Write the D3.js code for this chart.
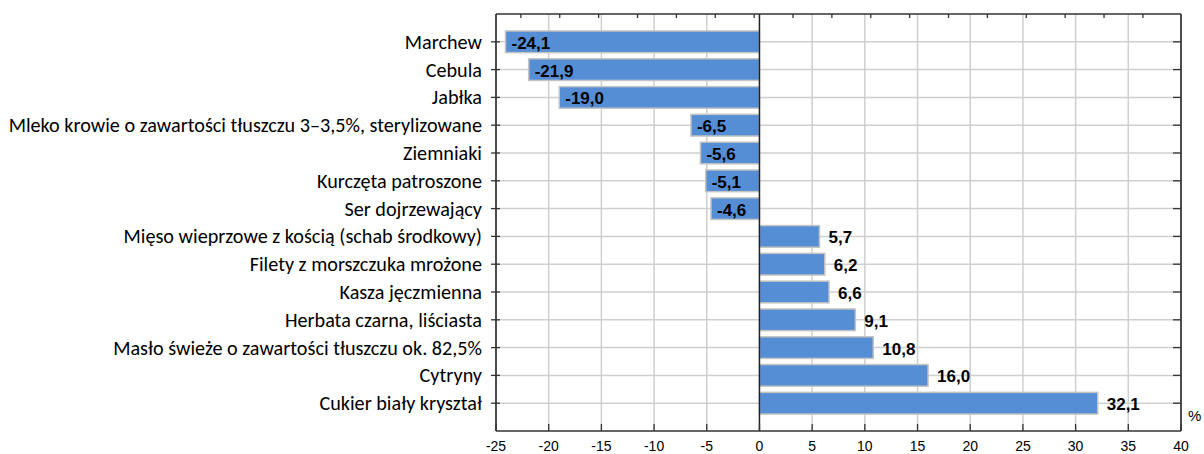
<!DOCTYPE html>
<html>
<head>
<meta charset="utf-8">
<script src="https://cdn.jsdelivr.net/npm/d3@7"></script>
<style>
  body { margin: 0; background: #fff; }
  svg { display: block; }
</style>
</head>
<body>
<svg id="chart" width="1204" height="454"></svg>
<script>
// dane
const categories = [
    "Marchew",
    "Cebula",
    "Jabłka",
    "Mleko krowie o zawartości tłuszczu 3–3,5%, sterylizowane",
    "Ziemniaki",
    "Kurczęta patroszone",
    "Ser dojrzewający",
    "Mięso wieprzowe z kością (schab środkowy)",
    "Filety z morszczuka mrożone",
    "Kasza jęczmienna",
    "Herbata czarna, liściasta",
    "Masło świeże o zawartości tłuszczu ok. 82,5%",
    "Cytryny",
    "Cukier biały kryształ"
];
const values = [-24.1, -21.9, -19.0, -6.5, -5.6, -5.1, -4.6, 5.7, 6.2, 6.6, 9.1, 10.8, 16.0, 32.1];
const xTicks = [-25, -20, -15, -10, -5, 0, 5, 10, 15, 20, 25, 30, 35, 40];
const topTicks = d3.range(0, 17); // drugorzędna oś u góry (obcięta)
const unitLabel = "%";

const svg = d3.select("#chart");
const margin = { top: 14, right: 23, bottom: 23, left: 496 };
const width = 1204, height = 454;
const x0 = margin.left, x1 = width - margin.right;
const y0 = margin.top, y1 = height - margin.bottom;

const x = d3.scaleLinear().domain([-25, 40]).range([x0, x1]);
const xTop = d3.scaleLinear().domain([-0.64, 16.98]).range([x0, x1]);
const y = d3.scaleBand()
    .domain(categories)
    .range([y0, y1])
    .paddingInner(0.22)
    .paddingOuter(0.61);
const yc = d => y(d) + y.bandwidth() / 2;

const fmt = v => v.toFixed(1).replace(".", ",");

// siatka pionowa
svg.append("g")
    .selectAll("line")
    .data(xTicks.filter(t => t !== 0))
    .enter()
    .append("line")
    .attr("x1", d => x(d)).attr("x2", d => x(d))
    .attr("y1", y0).attr("y2", y1)
    .attr("stroke", "#cfcfcf")
    .attr("stroke-width", 1.5);

// siatka pozioma (środki kategorii)
svg.append("g")
    .selectAll("line")
    .data(categories)
    .enter()
    .append("line")
    .attr("x1", x0).attr("x2", x1)
    .attr("y1", d => yc(d)).attr("y2", d => yc(d))
    .attr("stroke", "#cfcfcf")
    .attr("stroke-width", 1.5);

// słupki
svg.append("g")
    .selectAll("rect")
    .data(categories)
    .enter()
    .append("rect")
    .attr("x", (d, i) => Math.min(x(0), x(values[i])))
    .attr("y", d => y(d))
    .attr("width", (d, i) => Math.abs(x(values[i]) - x(0)))
    .attr("height", y.bandwidth())
    .attr("fill", "#558ed5")
    .attr("stroke", "#c4c4c4")
    .attr("stroke-width", 1.5);

// linia zera
svg.append("line")
    .attr("x1", x(0)).attr("x2", x(0))
    .attr("y1", y0).attr("y2", y1)
    .attr("stroke", "#222")
    .attr("stroke-width", 1.5);

// etykiety wartości
svg.append("g")
    .selectAll("text")
    .data(categories)
    .enter()
    .append("text")
    .attr("x", (d, i) => values[i] < 0 ? x(values[i]) + 6 : x(values[i]) + 9)
    .attr("y", d => yc(d) + 7)
    .attr("font-family", "Liberation Sans, Arial, sans-serif")
    .attr("font-weight", "bold")
    .attr("font-size", "17px")
    .attr("fill", "#000")
    .text((d, i) => fmt(values[i]));

// ramka / osie
const frame = svg.append("g").attr("stroke", "#333").attr("stroke-width", 1.7).attr("fill", "none");
frame.append("line").attr("x1", x0).attr("x2", x0).attr("y1", y0).attr("y2", y1);
frame.append("line").attr("x1", x1).attr("x2", x1).attr("y1", y0).attr("y2", y1);
frame.append("line").attr("x1", x0).attr("x2", x1).attr("y1", y0).attr("y2", y0);
frame.append("line").attr("x1", x0).attr("x2", x1).attr("y1", y1).attr("y2", y1);

// znaczniki osi dolnej (do wewnątrz)
svg.append("g")
    .selectAll("line")
    .data(xTicks)
    .enter()
    .append("line")
    .attr("x1", d => x(d)).attr("x2", d => x(d))
    .attr("y1", y1).attr("y2", y1 - 7)
    .attr("stroke", "#333").attr("stroke-width", 1.3);

// znaczniki osi górnej
svg.append("g")
    .selectAll("line")
    .data(topTicks)
    .enter()
    .append("line")
    .attr("x1", d => xTop(d)).attr("x2", d => xTop(d))
    .attr("y1", y0).attr("y2", y0 + 4)
    .attr("stroke", "#333").attr("stroke-width", 1.3);

// znaczniki lewej osi (przecinające)
svg.append("g")
    .selectAll("line")
    .data(categories)
    .enter()
    .append("line")
    .attr("x1", x0 - 5).attr("x2", x0 + 4)
    .attr("y1", d => yc(d)).attr("y2", d => yc(d))
    .attr("stroke", "#333").attr("stroke-width", 1.3);

// znaczniki prawej osi
svg.append("g")
    .selectAll("line")
    .data(categories)
    .enter()
    .append("line")
    .attr("x1", x1 - 8).attr("x2", x1)
    .attr("y1", d => yc(d)).attr("y2", d => yc(d))
    .attr("stroke", "#333").attr("stroke-width", 1.3);

// etykiety osi X
svg.append("g")
    .selectAll("text")
    .data(xTicks)
    .enter()
    .append("text")
    .attr("x", d => x(d))
    .attr("y", y1 + 20)
    .attr("text-anchor", "middle")
    .attr("font-family", "Liberation Sans, Arial, sans-serif")
    .attr("font-size", "14px")
    .attr("fill", "#000")
    .text(d => d);

// etykiety kategorii
svg.append("g")
    .selectAll("text")
    .data(categories)
    .enter()
    .append("text")
    .attr("x", x0 - 14)
    .attr("y", d => yc(d) + 7)
    .attr("text-anchor", "end")
    .attr("font-family", "Carlito, Calibri, Lato, sans-serif")
    .attr("font-size", "20.2px")
    .attr("fill", "#000")
    .text(d => d);

// jednostka
svg.append("text")
    .attr("x", x1 + 7)
    .attr("y", yc(categories[categories.length - 1]) + 18)
    .attr("font-family", "Liberation Sans, Arial, sans-serif")
    .attr("font-size", "15px")
    .attr("fill", "#000")
    .text(unitLabel);
</script>
</body>
</html>
